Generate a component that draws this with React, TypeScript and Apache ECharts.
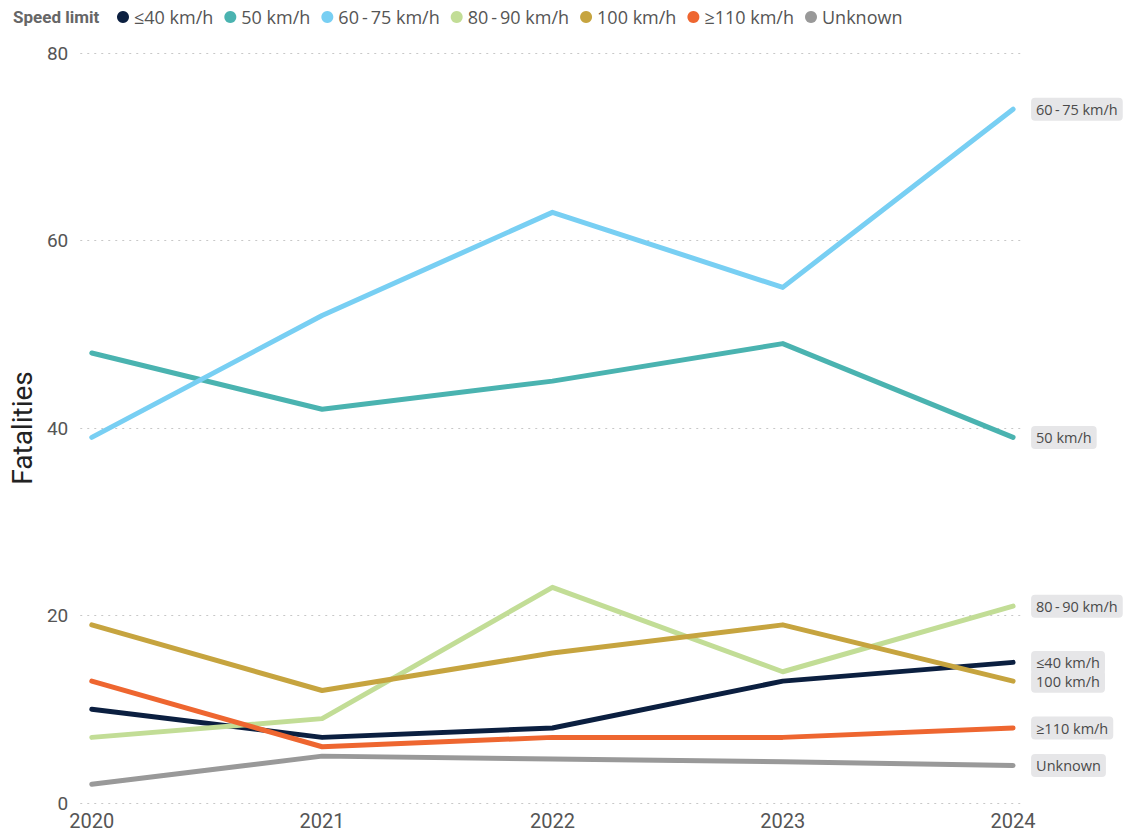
import React, { useEffect, useRef } from 'react'
import * as echarts from 'echarts'

const years = [2020, 2021, 2022, 2023, 2024]
const seriesNames = ['≤40 km/h', '50 km/h', '60-75 km/h', '80-90 km/h', '100 km/h', '≥110 km/h', 'Unknown']
const colors = ['#0b1f40', '#4ab3b0', '#78cff3', '#c2dd96', '#c6a43f', '#ee6630', '#999999']

const upTo40 = [10, 7, 8, 13, 15]
const kmh50 = [48, 42, 45, 49, 39]
const kmh60to75 = [39, 52, 63, 55, 74]
const kmh80to90 = [7, 9, 23, 14, 21]
const kmh100 = [19, 12, 16, 19, 13]
const over110 = [13, 6, 7, 7, 8]
const unknown = [2, 5, 4.7, 4.4, 4]

const seriesValues = [upTo40, kmh50, kmh60to75, kmh80to90, kmh100, over110, unknown]
const yTicks = [0, 20, 40, 60, 80]

const FONT = 'Roboto, sans-serif'
const WIDE = '"Open Sans", sans-serif'

// the reference font spaces its dashes out a little
const spaced = (s: string) => s.replace('-', '\u2009-\u2009')

const App: React.FC = () => {
  const chartRef = useRef<HTMLDivElement>(null)

  useEffect(() => {
    if (!chartRef.current) return
    const chart = echarts.init(chartRef.current, undefined, { renderer: 'svg' })

    const series = seriesNames.map((name, idx) => ({
      name,
      type: 'line',
      data: years.map((y, i) => [y, seriesValues[idx][i]]),
      showSymbol: false,
      symbol: 'circle',
      lineStyle: { width: 5, color: colors[idx], cap: 'round', join: 'round' },
      itemStyle: { color: colors[idx] },
      endLabel: {
        show: true,
        formatter: spaced(name),
        distance: 18,
        fontFamily: WIDE,
        fontSize: 14.5,
        color: '#4a4a4a',
        backgroundColor: '#e6e6e8',
        padding: [4, 5, 4, 5],
        borderRadius: 4
      }
    }))

    const option: echarts.EChartsOption = {
      animation: false,
      backgroundColor: '#ffffff',
      textStyle: { fontFamily: FONT },
      title: {
        text: 'Speed limit',
        left: 8,
        top: 3,
        textStyle: { fontFamily: FONT, fontSize: 17, fontWeight: 'bold', color: '#666666' }
      },
      legend: {
        left: 112,
        top: 3,
        icon: 'circle',
        itemWidth: 12,
        itemHeight: 12,
        itemGap: 11,
        data: seriesNames,
        formatter: (n: string) => spaced(n),
        textStyle: { fontFamily: WIDE, fontSize: 18, color: '#555555' }
      },
      grid: { left: 75.4, right: 101.4, top: 53, bottom: 35 },
      xAxis: {
        type: 'value',
        min: 2019.95,
        max: 2024.05,
        axisLine: { show: false },
        axisTick: { show: false },
        splitLine: { show: false },
        axisLabel: {
          customValues: years,
          formatter: (v: number) => String(Math.round(v)),
          fontFamily: FONT,
          fontSize: 20,
          color: '#555555',
          margin: 8
        }
      },
      yAxis: {
        type: 'value',
        min: yTicks[0],
        max: yTicks[yTicks.length - 1],
        interval: 20,
        name: 'Fatalities',
        nameLocation: 'middle',
        nameGap: 40,
        nameTextStyle: { fontFamily: FONT, fontSize: 28, color: '#222222' },
        axisLine: { show: false },
        axisTick: { show: false },
        axisLabel: { fontFamily: FONT, fontSize: 19, color: '#555555', margin: 12 },
        splitLine: { lineStyle: { type: [2, 5], color: '#c8c8c8', width: 1 } }
      },
      series: series as any
    }

    chart.setOption(option)
    const handleResize = () => chart.resize()
    window.addEventListener('resize', handleResize)
    return () => {
      window.removeEventListener('resize', handleResize)
      chart.dispose()
    }
  }, [])

  return (
    <div
      ref={chartRef}
      style={{ position: 'fixed', left: 0, top: 0, width: 1126, height: 838 }}
    />
  )
}

export default App
